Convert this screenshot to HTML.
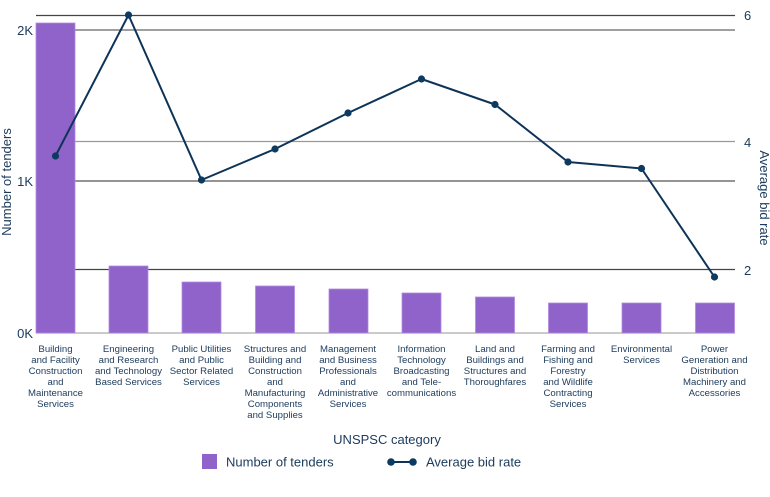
<!DOCTYPE html>
<html><head><meta charset="utf-8"><style>
html,body{margin:0;padding:0;background:#fff;}
svg{display:block;font-family:"Liberation Sans","DejaVu Sans",sans-serif;}
</style></head><body>
<svg width="770" height="497" viewBox="0 0 770 497" xmlns="http://www.w3.org/2000/svg">
<!-- gridlines -->
<g stroke-width="1.3">
<line x1="36" x2="735" y1="15.5" y2="15.5" stroke="#444"/>
<line x1="36" x2="735" y1="30" y2="30" stroke="#666"/>
<line x1="36" x2="735" y1="141.5" y2="141.5" stroke="#999"/>
<line x1="36" x2="735" y1="181" y2="181" stroke="#555"/>
<line x1="36" x2="735" y1="269.5" y2="269.5" stroke="#444"/>
<line x1="36" x2="735" y1="333" y2="333" stroke="#aaa"/>
</g>
<!-- bars -->
<g fill="#9063cb" stroke="#b28ae0" stroke-width="0.8">
<rect x="36" y="23" width="39" height="310"/>
<rect x="109" y="266" width="39" height="67"/>
<rect x="182" y="282" width="39" height="51"/>
<rect x="255.5" y="286" width="39" height="47"/>
<rect x="329" y="289" width="39" height="44"/>
<rect x="402" y="293" width="39" height="40"/>
<rect x="475.5" y="297" width="39" height="36"/>
<rect x="548.5" y="303" width="39" height="30"/>
<rect x="622" y="303" width="39" height="30"/>
<rect x="695.5" y="303" width="39" height="30"/>
</g>
<!-- line -->
<polyline fill="none" stroke="#0d3458" stroke-width="2" stroke-linejoin="round"
points="55.5,156 128.5,15 201.5,180 275,149 348,113 421.5,79 495,104.5 568,162 641.5,168.5 714.5,277"/>
<g fill="#0d3a60">
<circle cx="55.5" cy="156" r="3.6"/>
<circle cx="128.5" cy="15" r="3.6"/>
<circle cx="201.5" cy="180" r="3.6"/>
<circle cx="275" cy="149" r="3.6"/>
<circle cx="348" cy="113" r="3.6"/>
<circle cx="421.5" cy="79" r="3.6"/>
<circle cx="495" cy="104.5" r="3.6"/>
<circle cx="568" cy="162" r="3.6"/>
<circle cx="641.5" cy="168.5" r="3.6"/>
<circle cx="714.5" cy="277" r="3.6"/>
</g>
<!-- axis tick labels -->
<g fill="#1b3a5c" font-size="13">
<text x="33" y="35" text-anchor="end">2K</text>
<text x="33" y="186" text-anchor="end">1K</text>
<text x="33" y="338" text-anchor="end">0K</text>
<text x="744" y="20">6</text>
<text x="744" y="147">4</text>
<text x="744" y="275">2</text>
</g>
<text transform="translate(11,182) rotate(-90)" text-anchor="middle" font-size="13" fill="#1b3a5c">Number of tenders</text>
<text transform="translate(760,198) rotate(90)" text-anchor="middle" font-size="13" fill="#1b3a5c">Average bid rate</text>
<!-- category labels -->
<g fill="#1b3a5c" font-size="9.6" text-anchor="middle">
<text x="55.5" y="352"><tspan x="55.5">Building</tspan><tspan x="55.5" dy="11">and Facility</tspan><tspan x="55.5" dy="11">Construction</tspan><tspan x="55.5" dy="11">and</tspan><tspan x="55.5" dy="11">Maintenance</tspan><tspan x="55.5" dy="11">Services</tspan></text>
<text x="128.5" y="352"><tspan x="128.5">Engineering</tspan><tspan x="128.5" dy="11">and Research</tspan><tspan x="128.5" dy="11">and Technology</tspan><tspan x="128.5" dy="11">Based Services</tspan></text>
<text x="201.5" y="352"><tspan x="201.5">Public Utilities</tspan><tspan x="201.5" dy="11">and Public</tspan><tspan x="201.5" dy="11">Sector Related</tspan><tspan x="201.5" dy="11">Services</tspan></text>
<text x="275" y="352"><tspan x="275">Structures and</tspan><tspan x="275" dy="11">Building and</tspan><tspan x="275" dy="11">Construction</tspan><tspan x="275" dy="11">and</tspan><tspan x="275" dy="11">Manufacturing</tspan><tspan x="275" dy="11">Components</tspan><tspan x="275" dy="11">and Supplies</tspan></text>
<text x="348" y="352"><tspan x="348">Management</tspan><tspan x="348" dy="11">and Business</tspan><tspan x="348" dy="11">Professionals</tspan><tspan x="348" dy="11">and</tspan><tspan x="348" dy="11">Administrative</tspan><tspan x="348" dy="11">Services</tspan></text>
<text x="421.5" y="352"><tspan x="421.5">Information</tspan><tspan x="421.5" dy="11">Technology</tspan><tspan x="421.5" dy="11">Broadcasting</tspan><tspan x="421.5" dy="11">and Tele-</tspan><tspan x="421.5" dy="11">communications</tspan></text>
<text x="495" y="352"><tspan x="495">Land and</tspan><tspan x="495" dy="11">Buildings and</tspan><tspan x="495" dy="11">Structures and</tspan><tspan x="495" dy="11">Thoroughfares</tspan></text>
<text x="568" y="352"><tspan x="568">Farming and</tspan><tspan x="568" dy="11">Fishing and</tspan><tspan x="568" dy="11">Forestry</tspan><tspan x="568" dy="11">and Wildlife</tspan><tspan x="568" dy="11">Contracting</tspan><tspan x="568" dy="11">Services</tspan></text>
<text x="641.5" y="352"><tspan x="641.5">Environmental</tspan><tspan x="641.5" dy="11">Services</tspan></text>
<text x="714.5" y="352"><tspan x="714.5">Power</tspan><tspan x="714.5" dy="11">Generation and</tspan><tspan x="714.5" dy="11">Distribution</tspan><tspan x="714.5" dy="11">Machinery and</tspan><tspan x="714.5" dy="11">Accessories</tspan></text>
</g>
<text x="387" y="444" text-anchor="middle" font-size="13" fill="#1b3a5c">UNSPSC category</text>
<!-- legend -->
<rect x="202" y="454" width="15" height="15" fill="#9063cb"/>
<text x="226" y="466.5" font-size="13" fill="#1b3a5c">Number of tenders</text>
<line x1="391" x2="413" y1="462" y2="462" stroke="#0d3458" stroke-width="2"/>
<circle cx="391" cy="462" r="3.8" fill="#0d3a60"/>
<circle cx="413" cy="462" r="3.8" fill="#0d3a60"/>
<text x="426" y="466.5" font-size="13" fill="#1b3a5c">Average bid rate</text>
</svg>
</body></html>
